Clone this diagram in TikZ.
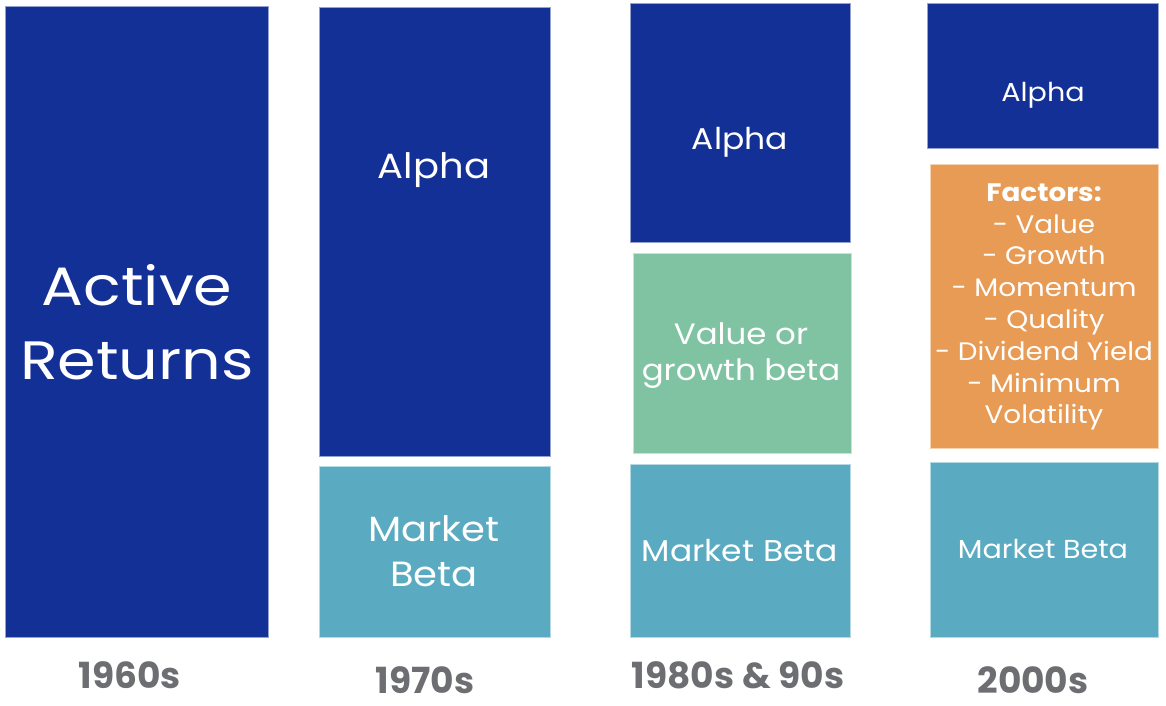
\documentclass[tikz,border=0pt]{standalone}
\usepackage{fontspec}
\setmainfont{Poppins}
\newfontfamily\bodyfont[FakeStretch=1.1]{Poppins}
\newfontfamily\bigfont[FakeStretch=1.15]{Poppins}
\definecolor{dblue}{HTML}{133096}
\definecolor{mteal}{HTML}{5AABC1}
\definecolor{vgreen}{HTML}{7FC3A3}
\definecolor{forange}{HTML}{E89B55}
\definecolor{lgray}{HTML}{6D6E71}
\tikzset{
  box/.style={rectangle, fill=#1, draw=white!55!#1, line width=0.8pt, inner sep=0pt},
  txt/.style 2 args={text=white, align=center, inner sep=0pt, font=\bodyfont\fontsize{#1}{#2}\selectfont},
  yr/.style={text=lgray, inner sep=0pt, font=\fontsize{36}{40}\selectfont\bfseries}
}
\begin{document}
\begin{tikzpicture}[x=1pt,y=-1pt]
\useasboundingbox (0,0) rectangle (1166,706);
% boxes
\node[box=dblue, minimum width=263pt, minimum height=631pt] (a60) at (136.5,321.5) {};
\node[box=dblue, minimum width=231pt, minimum height=449pt] (a70) at (434.5,231.5) {};
\node[box=mteal, minimum width=231pt, minimum height=171pt] (m70) at (434.5,551.5) {};
\node[box=dblue, minimum width=220pt, minimum height=239pt] (a80) at (740,122.5) {};
\node[box=vgreen, minimum width=218pt, minimum height=200pt] (v80) at (742,353) {};
\node[box=mteal, minimum width=220pt, minimum height=173pt] (m80) at (740,550.5) {};
\node[box=dblue, minimum width=231pt, minimum height=145pt] (a00) at (1042.5,75.5) {};
\node[box=forange, minimum width=228pt, minimum height=284pt] (f00) at (1044,306) {};
\node[box=mteal, minimum width=228pt, minimum height=175pt] (m00) at (1044,549.5) {};
% texts
\node[txt={54}{74}, font=\bigfont\fontsize{54}{74}\selectfont] (t60) at (137,322) {Active\\Returns};
\node[txt={35}{40}] (ta70) at (434,170) {Alpha};
\node[txt={35}{45}] (tm70) at (434,551) {Market\\Beta};
\node[txt={30}{36}] (ta80) at (740,142) {Alpha};
\node[txt={29.5}{36}] (tv80) at (741,356) {Value or\\growth beta};
\node[txt={30}{34}] (tm80) at (740,551) {Market Beta};
\node[txt={26}{30}] (ta00) at (1043,95) {Alpha};
\node[txt={25.3}{31.8}] (tf00) at (1044,307) {\textbf{Factors:}\\- Value\\- Growth\\- Momentum\\- Quality\\- Dividend Yield\\- Minimum\\Volatility};
\node[txt={26}{30}] (tm00) at (1043,549) {Market Beta};
% year labels
\node[yr] (y60) at (130,675) {1960s};
\node[yr] (y70) at (425,680) {1970s};
\node[yr] (y80) at (738,675) {1980s \& 90s};
\node[yr] (y00) at (1033,680) {2000s};
\end{tikzpicture}
\end{document}
